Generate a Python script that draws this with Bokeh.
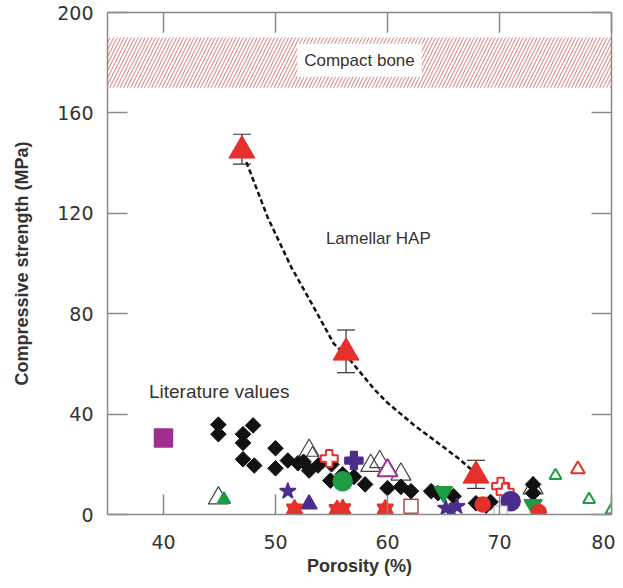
from bokeh.plotting import figure
from bokeh.models import (ColumnDataSource, Whisker, TeeHead, Label, LinearAxis,
                          FixedTicker, Range1d)
from bokeh.embed import file_html
from bokeh.resources import INLINE
import numpy as np

# ---------------- data ----------------
x_ticks = [40, 50, 60, 70, 80]
y_ticks = [0, 40, 80, 120, 160, 200]

bone_band = dict(left=[35], right=[80], bottom=[170], top=[190])

lam_x = [47.0, 56.3, 67.9]
lam_y = [145.0, 64.5, 15.5]
lam_lo = [139.6, 56.5, 10.4]
lam_hi = [151.5, 73.5, 21.6]

fit_x = [47.4, 49.3, 51.4, 53.4, 55.2, 56.4, 58.8, 60.0, 62.4, 64.5, 66.3, 67.6]
fit_y = [140.4, 118.4, 98.6, 82.7, 68.1, 62.9, 50.0, 44.5, 35.5, 28.5, 22.5, 17.5]

diam_x = [44.9, 44.9, 47.1, 47.1, 48.0, 47.1, 48.1, 50.0, 50.0, 51.1, 52.0, 53.0,
          53.8, 54.9, 56.0, 57.0, 58.0, 60.0, 61.2, 62.1, 63.9, 65.9, 64.5, 67.9,
          68.8, 69.2, 73.0, 73.0, 55.0, 52.5]
diam_y = [35.8, 32.0, 32.0, 28.5, 35.5, 22.0, 19.5, 26.4, 18.4, 21.5, 20.4, 17.5,
          19.5, 13.5, 16.0, 15.0, 12.0, 10.5, 11.0, 9.3, 9.3, 7.3, 8.5, 4.5,
          3.5, 5.0, 12.0, 8.5, 20.0, 21.0]

otri_x = [53.0, 53.3, 58.5, 59.3, 61.2, 44.9, 73.0]
otri_y = [25.5, 22.5, 19.5, 21.0, 16.0, 6.5, 10.5]

mag_otri_x = [60.0]
mag_otri_y = [17.5]

red_oplus_x = [54.8, 70.1, 70.5]
red_oplus_y = [22.3, 11.3, 9.0]

pur_plus_x = [57.0]
pur_plus_y = [21.5]

grn_circ_x = [56.0]
grn_circ_y = [13.2]

pur_star_x = [51.1, 65.2, 66.2, 65.7]
pur_star_y = [9.3, 2.5, 3.2, 1.5]

pur_tri_x = [53.0]
pur_tri_y = [4.1]

red_hex_x = [51.7, 55.5, 56.0, 59.8]
red_hex_y = [2.2, 2.0, 2.3, 2.2]

brn_osq_x = [62.1]
brn_osq_y = [3.3]

grn_itri_x = [65.0, 73.0]
grn_itri_y = [9.0, 3.8]

red_circ_x = [68.5, 73.5]
red_circ_y = [4.0, 1.0]

pur_circ_x = [71.0]
pur_circ_y = [5.3]

gry_osq_x = [70.1]
gry_osq_y = [0.8]

grn_otri_x = [75.0, 78.0, 80.0]
grn_otri_y = [15.5, 6.0, 1.8]

red_otri_x = [77.0]
red_otri_y = [18.0]

mag_sq_x = [40.0]
mag_sq_y = [30.5]

grn_tri_x = [45.4]
grn_tri_y = [6.0]

# ---------------- colours ----------------
RED = "#e5302c"
PUR = "#4a2d8c"
GRN = "#1f9a45"
MAG = "#9e2f8c"
BLK = "#111111"
AX = "#8a8a8a"
TXT = "#333333"
FONT = "Liberation Sans"

p = figure(width=615, height=580, output_backend="svg", toolbar_location=None,
           x_range=Range1d(35, 80), y_range=Range1d(0, 200),
           min_border_left=107, min_border_right=4, min_border_top=12,
           min_border_bottom=66)
p.outline_line_color = None
p.xgrid.visible = False
p.ygrid.visible = False
p.background_fill_color = "white"

def style_axis(ax, show_labels):
    ax.axis_line_color = AX
    ax.axis_line_width = 1.5
    ax.major_tick_line_color = AX
    ax.major_tick_line_width = 1.5
    ax.major_tick_in = 20
    ax.major_tick_out = 0
    ax.minor_tick_line_color = None
    if show_labels:
        ax.major_label_text_font = "DejaVu Sans"
        ax.major_label_text_font_size = "19px"
        ax.major_label_text_color = TXT
    else:
        ax.major_label_text_font_size = "1px"
        ax.major_label_text_color = None
        ax.major_label_standoff = 0

p.xaxis.ticker = FixedTicker(ticks=x_ticks)
p.yaxis.ticker = FixedTicker(ticks=y_ticks)
style_axis(p.xaxis[0], True)
style_axis(p.yaxis[0], True)
p.xaxis.major_label_standoff = 20
p.yaxis.major_label_standoff = 14
p.xaxis.axis_label = "Porosity (%)"
p.yaxis.axis_label = "Compressive strength (MPa)"
for ax in (p.xaxis[0], p.yaxis[0]):
    ax.axis_label_text_font = FONT
    ax.axis_label_text_font_style = "bold"
    ax.axis_label_text_font_size = "18px"
    ax.axis_label_text_color = TXT
p.xaxis.axis_label_standoff = 4
p.yaxis.axis_label_standoff = 22

top_ax = LinearAxis(ticker=FixedTicker(ticks=x_ticks))
right_ax = LinearAxis(ticker=FixedTicker(ticks=y_ticks))
style_axis(top_ax, False)
style_axis(right_ax, False)
p.add_layout(top_ax, "above")
p.add_layout(right_ax, "right")

# compact bone band
p.quad(source=ColumnDataSource(bone_band), left="left", right="right",
       bottom="bottom", top="top", fill_alpha=0, line_alpha=0,
       hatch_pattern="/", hatch_color="#d27c75", hatch_scale=7, hatch_weight=1)
p.add_layout(Label(x=57.5, y=181, text="Compact bone", text_align="center",
                   text_baseline="middle", text_font=FONT, text_font_size="17px",
                   text_color=TXT, background_fill_color="white",
                   padding=7))

# fit curve
p.line(fit_x, fit_y, line_color=BLK, line_width=2.5, line_dash="5 3")

# literature values
def sc(x, y, marker, size, fill, line, lw=1.5, angle=0.0, alpha=1.0):
    p.scatter(x, y, marker=marker, size=size, fill_color=fill, line_color=line,
              line_width=lw, angle=angle, fill_alpha=alpha)

sc(mag_sq_x, mag_sq_y, "square", 18, MAG, MAG)
sc(otri_x, otri_y, "triangle", 20, "white", "#444444", 1.2, alpha=0.0)
sc(diam_x, diam_y, "square", 11, BLK, BLK, 1.0, angle=np.pi / 4)
sc(grn_tri_x, grn_tri_y, "triangle", 13, GRN, GRN)
sc(mag_otri_x, mag_otri_y, "triangle", 20, "white", MAG, 2)
sc(red_oplus_x, red_oplus_y, "plus", 17, "white", RED, 2)
sc(pur_plus_x, pur_plus_y, "plus", 18, PUR, PUR)
sc(grn_circ_x, grn_circ_y, "circle", 19, GRN, GRN)
sc(pur_star_x, pur_star_y, "star", 17, PUR, PUR)
sc(pur_tri_x, pur_tri_y, "triangle", 16, PUR, PUR)
sc(red_hex_x, red_hex_y, "triangle", 16, RED, RED)
sc(red_hex_x, red_hex_y, "inverted_triangle", 16, RED, RED)
sc(brn_osq_x, brn_osq_y, "square", 14, "white", "#b5463c", 1.5)
sc(grn_itri_x, grn_itri_y, "inverted_triangle", 18, GRN, GRN)
sc(red_circ_x, red_circ_y, "circle", 15, RED, RED)
sc(pur_circ_x, pur_circ_y, "circle", 19, PUR, PUR)
sc(gry_osq_x, gry_osq_y, "square", 13, "white", "#bbbbbb", 1.2)
sc(grn_otri_x, grn_otri_y, "triangle", 12, "white", GRN, 2)
sc(red_otri_x, red_otri_y, "triangle", 14, "white", RED, 2)

# lamellar HAP with error bars
lam_src = ColumnDataSource(dict(x=lam_x, y=lam_y, lo=lam_lo, hi=lam_hi))
p.add_layout(Whisker(source=lam_src, base="x", lower="lo", upper="hi",
                     line_color="#333333", line_width=1.2,
                     upper_head=TeeHead(size=18, line_color="#333333", line_width=1.2),
                     lower_head=TeeHead(size=18, line_color="#333333", line_width=1.2),
                     level="underlay"))
sc(lam_x, lam_y, "triangle", 26, RED, RED, 1)

p.add_layout(Label(x=54.5, y=110, text="Lamellar HAP", text_baseline="middle",
                   text_font=FONT, text_font_size="17px", text_color=TXT))
p.add_layout(Label(x=38.7, y=49, text="Literature values", text_baseline="middle",
                   text_font=FONT, text_font_size="19px", text_color=TXT))

open("out.html", "w").write(file_html(p, INLINE))
